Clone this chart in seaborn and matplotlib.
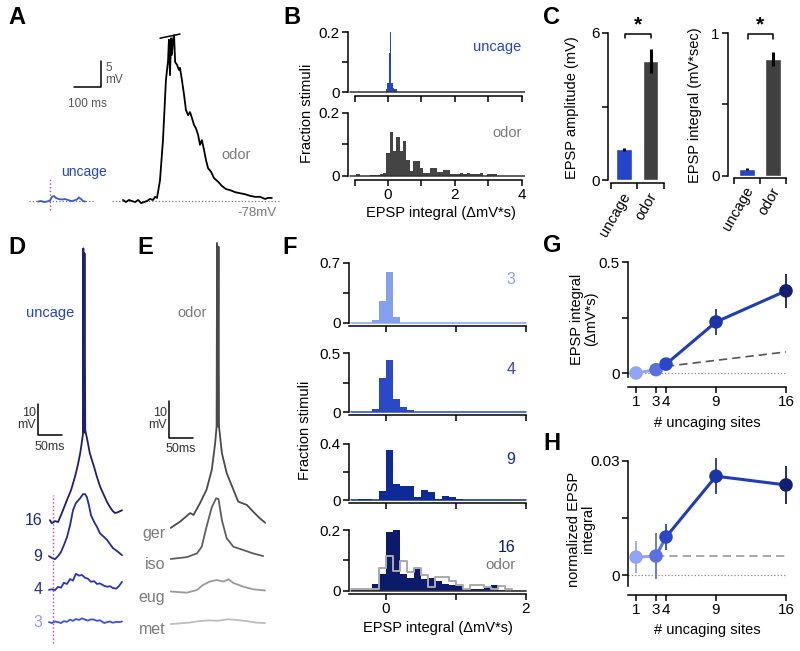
import numpy as np
import matplotlib
matplotlib.use("Agg")
import matplotlib.pyplot as plt
import matplotlib.transforms as mtrans
import seaborn as sns

# ---------------- data ----------------
# A: example traces (ms, mV above rest)
a_unc_t = [67, 78, 89, 100, 111, 118, 126, 133, 144, 155, 166, 178, 189, 200, 211, 218, 226, 233, 241]
a_unc_v = [-0.1, 0, -0.2, -0.1, 0.1, 0.77, 0.96, 0.58, 0.38, 0.29, 0.38, 0.19, 0, 0.1, 0.29, 0.67, 0.38, 0, -0.1]
a_odor_t = [381, 392, 403, 414, 426, 437, 448, 459, 470, 481, 492, 500, 507, 518, 529, 540, 548, 551, 555, 559,
            562, 566, 570, 574, 581, 588, 592, 599, 607, 614, 622, 629, 636, 644, 651, 659, 666, 673, 681, 688,
            696, 707, 718, 733, 747, 762, 777, 796, 814, 833, 851, 870, 888, 907, 918, 932]
a_odor_v = [0.2, -0.2, 0.2, 0, -0.2, 0.2, -0.4, -0.2, 0, 0.4, 0.2, 0.8, 0.6, 4.0, 11.7, 23.3, 27.1, 31.0, 24.2, 31.3,
            28.1, 31.0, 31.9, 26.7, 26.2, 25.2, 25.6, 23.3, 20.4, 17.5, 16.5, 17.1, 16.0, 14.6, 14.0, 12.7, 10.8, 11.7, 9.8, 7.9,
            6.3, 5.6, 4.4, 3.7, 2.9, 2.3, 2.1, 1.7, 1.5, 1.3, 1.0, 0.8, 0.8, 0.4, 0.6, 0.6]

# B: histograms of EPSP integral
b_unc_edges = [-0.06, -0.02, 0.02, 0.06, 0.10, 0.14, 0.18, 0.22, 0.26]
b_unc_h = [0.01, 0.03, 0.13, 0.21, 0.03, 0.015, 0.01, 0.01]
b_odor_h = [0.006, 0, 0, 0, 0.004, 0.004, 0.004, 0.005, 0.01, 0.074, 0.14, 0.08, 0.125, 0.08, 0.11,
            0.05, 0.017, 0.047, 0.047, 0.024, 0.01, 0.01, 0.024, 0.024, 0.014, 0.014, 0.019, 0.019, 0.005,
            0.005, 0.005, 0.01, 0.005, 0.01, 0.005, 0.005, 0.005, 0.01, 0, 0.007, 0.005, 0.007, 0]
b_odor_edges = np.round(np.arange(-0.95, 3.36, 0.1), 2).tolist()

# C: means and errors
c_cats = ["uncage", "odor"]
amp_mean = [1.25, 4.86]
amp_err = [0.07, 0.5]
int_mean = [0.05, 0.82]
int_err = [0.008, 0.05]

# D: uncaging traces (ms, mV), number of sites
d_t16 = [2, 6, 12.5, 19, 25, 31, 37.5, 46, 54, 60, 65, 69, 71, 71.5, 72.5, 74, 75.5, 79, 85, 94, 100, 106, 112.5,
         121, 127, 133, 137.5, 144, 152]
d_v16 = [0, -1, -0.3, -0.6, 1.6, 3.9, 6.5, 9.7, 13.9, 17.7, 21.6, 25.8, 28.1, 87.7, 28.1, 86.1, 29, 26.5, 21.6, 17.1,
         13.9, 11, 8.7, 5.8, 4.2, 2.9, 2.3, 2.6, 3.2]
d_t9 = [0, 6, 12.5, 19, 25, 31, 37.5, 44, 50, 56, 65, 71, 75, 79, 83, 87.5, 94, 100, 106, 115, 121, 127, 133, 142, 152]
d_v9 = [0, -0.6, -1, 0, 1.3, 3.5, 6.1, 10, 14.8, 17.1, 18.7, 20, 20, 19, 16.5, 13.2, 11, 9.4, 7.4, 6.1, 5.2, 3.9,
        2.6, 1.6, 0.3]
d_t4 = [0, 6, 12.5, 19, 25, 31, 37.5, 44, 50, 56, 62.5, 69, 75, 81, 87.5, 94, 100, 106, 115, 121, 127, 133, 140, 146, 152]
d_v4 = [0, 0.2, -0.1, 1, 0.7, 2.3, 1.9, 3.5, 3.0, 5.2, 4.6, 4.8, 3.9, 3.6, 2.6, 2.8, 1.9, 2.1, 1.3, 1.0, 1.2, 0.6,
        0.4, 1.3, 2.6]
d_v3 = [0, -0.3, 0.2, 0, -0.3, 0.3, 0.1, 0.8, 0.4, 1.0, 0.7, 1.2, 0.8, 0.5, 0.9, 0.8, 0.4, 0.6, -0.3, 0, 0.2, -0.2,
        0.1, 0, 0.2]
d_labels = ["16", "9", "4", "3"]
d_offsets = [41.9, 30.3, 19.4, 9.0]

# E: odor traces (ms, mV)
e_ger_t = [1.5, 21, 42, 49, 62.5, 76, 87, 94, 97, 98, 99.5, 101, 102, 108, 118, 132, 142, 160, 173, 187, 198]
e_ger_v = [0, 1.7, 4, 3.5, 6.7, 10.3, 15.7, 22.9, 27.4, 77, 27.4, 76, 27.4, 20.2, 14.8, 10.3, 7.1, 6.2, 4.4, 2.6, 1.4]
e_iso_t = [1.5, 35, 56, 66, 76, 87, 96, 101, 108, 118, 132, 153, 173, 194]
e_iso_v = [0, 0.5, 1.5, 3.3, 8.7, 14, 16.4, 16.2, 10.5, 5.6, 3.3, 2.4, 1.5, 0.8]
e_eug_t = [1.5, 35, 56, 69, 83, 97, 111, 122, 132, 153, 173, 198]
e_eug_v = [0.1, -0.2, 0.5, 1.9, 2.8, 3.2, 2.8, 3.4, 2.4, 1.4, 0.7, 0.4]
e_met_t = [1.5, 20, 40, 60, 80, 100, 120, 140, 160, 180, 198]
e_met_v = [0, 0.2, 0.4, 0.8, 1.0, 0.9, 1.3, 1.1, 0.8, 0.4, 0.3]
e_labels = ["ger", "iso", "eug", "met"]
e_offsets = [33.0, 24.6, 15.7, 7.0]

# F: histograms per number of sites (bins of 0.1 from -0.5 to 2)
f_edges = np.round(np.arange(-0.5, 2.01, 0.1), 2).tolist()
f_h3 = [0, 0, 0, 0.03, 0.26, 0.6, 0.07] + [0] * 18
f_h4 = [0, 0, 0, 0.03, 0.29, 0.44, 0.11, 0.043, 0.014, 0.004, 0, 0, 0] + [0.004] * 12
f_h9 = [0, 0.005, 0.005, 0, 0.065, 0.355, 0.115, 0.1, 0.1, 0.024, 0.072, 0.057, 0.005, 0.031, 0.019, 0.005] + [0] * 9
f_h16 = [0.003, 0.003, 0.003, 0.022, 0.054, 0.195, 0.2, 0.054, 0.043, 0.079, 0.04, 0.043, 0.032, 0.022, 0.018,
         0.016, 0.005, 0.005, 0.008, 0.013, 0.02, 0.003, 0, 0, 0]
f_odor = [0.008, 0.008, 0.008, 0.008, 0.076, 0.116, 0.067, 0.098, 0.062, 0.076, 0.051, 0.013, 0.046, 0.046, 0.033,
          0.021, 0.008, 0.021, 0.021, 0.013, 0.008, 0.015, 0.008, 0, 0]

# G/H: summary vs number of sites
sites = [1, 3, 4, 9, 16]
g_vals = [0.0, 0.015, 0.04, 0.23, 0.37]
g_err = [0.004, 0.008, 0.012, 0.06, 0.075]
g_lin_x = [4, 16]
g_lin_y = [0.03, 0.095]
h_vals = [0.0047, 0.005, 0.010, 0.026, 0.0237]
h_err = [0.0042, 0.006, 0.0033, 0.0048, 0.0049]
h_lin_x = [3, 16]
h_lin_y = [0.005, 0.005]

# colours
BLUE = "#2444c9"
GRAY_TXT = "#7a7a7a"
site_colors = ["#93a5f2", "#5a70e0", "#2b46c8", "#1b35a8", "#101f70"]
d_colors = ["#1b1f78", "#1f2da0", "#2535c8", "#3c4ef0"]
d_lab_colors = ["#1b2a80", "#1b2a90", "#1f30a8", "#8da0ee"]
e_colors = ["#4a4a4a", "#5e5e5e", "#9a9a9a", "#bdbdbd"]

# ---------------- style ----------------
sns.set_theme(style="ticks")
plt.rcParams['font.family'] = ['Liberation Sans', 'DejaVu Sans']
plt.rcParams.update({
    'font.size': 10.5, 'axes.linewidth': 1.1, 'axes.edgecolor': 'black',
    'xtick.major.width': 1.1, 'ytick.major.width': 1.1,
    'xtick.major.size': 4, 'ytick.major.size': 4,
    'xtick.major.pad': 2, 'ytick.major.pad': 2,
    'xtick.labelsize': 11, 'ytick.labelsize': 11,
    'xtick.color': 'black', 'ytick.color': 'black',
    'text.color': 'black', 'axes.labelcolor': 'black',
})

W, H = 800, 651
fig = plt.figure(figsize=(W / 100, H / 100), dpi=100)


def add_ax(x0, y0, x1, y1):
    # axes placed in pixel coordinates (origin top-left)
    return fig.add_axes([x0 / W, 1 - y1 / H, (x1 - x0) / W, (y1 - y0) / H])


def ftext(x, y, s, **kw):
    return fig.text(x / W, 1 - y / H, s, **kw)


def trace(ax, t, v, color, off=0.0, lw=1.3):
    sns.lineplot(x=np.asarray(t), y=np.asarray(v) + off, ax=ax, color=color, lw=lw,
                 sort=False, estimator=None)


def clean(ax):
    sns.despine(ax=ax)
    ax.set_xlabel("")
    ax.set_ylabel("")


# ---------------- A ----------------
ax = add_ax(20, 20, 290, 220)
ax.set_xlim(0, 999)
ax.set_ylim(-3.65, 34.8)
ax.axis("off")
ax.plot([33, 278], [0, 0], ls=":", color="#777777", lw=0.9)
ax.plot([340, 966], [0, 0], ls=":", color="#777777", lw=0.9)
ax.plot([111, 111], [-1.7, 4.4], ls=":", color="#d030d0", lw=1.0)
trace(ax, a_unc_t, a_unc_v, "#3a5ad8")
trace(ax, a_odor_t, a_odor_v, "black")
ax.plot([518, 592], [31.3, 32.1], color="black", lw=1.1)
ax.plot([200, 300, 300], [21.9, 21.9, 26.9], color="black", lw=1.1)
ax.text(315, 24.4, "5\nmV", fontsize=8.5, color="#555555", ha="left", va="center", linespacing=1.0)
ax.text(248, 19.9, "100 ms", fontsize=8.5, color="#555555", ha="center", va="top")
ax.text(237, 5.6, "uncage", fontsize=10, color=BLUE, ha="center", va="center")
ax.text(799, 8.8, "odor", fontsize=10.5, color=GRAY_TXT, ha="center", va="center")
ax.text(950, -2.3, "-78mV", fontsize=9.5, color=GRAY_TXT, ha="right", va="center")

# ---------------- B ----------------
axb1 = add_ax(348, 32, 525, 96)
sns.histplot(x=[e + 0.02 for e in b_unc_edges[:-1]], weights=b_unc_h, bins=b_unc_edges, ax=axb1,
             color=BLUE, alpha=1, linewidth=0)
axb1.plot([-1.15, 4.1], [0, 0], color="#333333", lw=1.1)
axb1.set_xlim(-1.2, 4.1)
axb1.set_ylim(-0.012, 0.2)
clean(axb1)
axb1.spines["left"].set_bounds(0, 0.2)
axb1.spines["bottom"].set_bounds(-1, 4)
axb1.set_yticks([0, 0.1, 0.2], ["0", "", "0.2"])
axb1.set_xticks(range(-1, 5), [""] * 6)
axb1.text(4.0, 0.15, "uncage", color=BLUE, fontsize=10.5, ha="right", va="center")

axb2 = add_ax(348, 113, 525, 180)
sns.histplot(x=[e + 0.05 for e in b_odor_edges[:-1]], weights=b_odor_h, bins=b_odor_edges, ax=axb2,
             color="#444444", alpha=1, linewidth=0)
axb2.plot([-1.15, 4.1], [0, 0], color="#333333", lw=1.1)
axb2.set_xlim(-1.2, 4.1)
axb2.set_ylim(-0.0127, 0.2)
clean(axb2)
axb2.spines["left"].set_bounds(0, 0.2)
axb2.spines["bottom"].set_bounds(-1, 4)
axb2.set_yticks([0, 0.1, 0.2], ["0", "", "0.2"])
axb2.set_xticks(range(-1, 5), ["", "0", "", "2", "", "4"])
axb2.text(4.0, 0.135, "odor", color=GRAY_TXT, fontsize=10.5, ha="right", va="center")
ftext(307, 113, "Fraction stimuli", rotation=90, ha="center", va="center")
ftext(441, 213, "EPSP integral (ΔmV*s)", ha="center", va="center")

# ---------------- C ----------------
c_colors = [BLUE, "#404040"]


def bar_panel(box, means, errs, xlim, ylim, yticks, ylabels, ylab, ylab_xy, br_y, star_y):
    axc = add_ax(*box)
    sns.barplot(x=c_cats, y=means, hue=c_cats, palette=c_colors, width=0.58, legend=False,
                ax=axc, saturation=1, errorbar=None)
    axc.errorbar([0, 1], means, yerr=errs, fmt="none", ecolor="black", elinewidth=2.2, capsize=0)
    clean(axc)
    axc.set_xlim(*xlim)
    axc.set_ylim(*ylim)
    axc.spines["left"].set_bounds(0, ylim[1])
    axc.spines["bottom"].set_bounds(-0.5, 1.5)
    axc.set_xticks([-0.5, 0.5, 1.5], ["", "", ""])
    axc.set_yticks(yticks, ylabels)
    tr = mtrans.blended_transform_factory(axc.transData, axc.transAxes)
    for i, c in enumerate(c_cats):
        axc.text(i + 0.12, -0.07, c, transform=tr, rotation=60, ha="right", va="center",
                 rotation_mode="anchor", fontsize=10.5)
    dy = ylim[1] * 0.03
    axc.plot([0.02, 0.02, 1.0, 1.0], [br_y - dy, br_y, br_y, br_y - dy], color="black", lw=1.1, clip_on=False)
    axc.text(0.51, star_y, "*", ha="center", va="center", fontsize=15, fontweight="bold")
    ftext(*ylab_xy, ylab, rotation=90, ha="center", va="center")
    return axc


bar_panel((608, 33, 664, 183), amp_mean, amp_err, (-0.61, 1.5), (-0.12, 6), [0, 3, 6], ["0", "", "6"],
          "EPSP amplitude (mV)", (572, 108), 5.97, 6.35)
bar_panel((728, 33, 786, 178), int_mean, int_err, (-0.73, 1.5), (-0.014, 1), [0, 0.5, 1], ["0", "", "1"],
          "EPSP integral (mV*sec)", (695, 105), 0.99, 1.06)

# ---------------- D ----------------
axd = add_ax(10, 240, 135, 650)
axd.set_xlim(-81, 179)
axd.set_ylim(0, 132.3)
axd.axis("off")
axd.plot([8.3, 8.3], [2.3, 50], ls=":", color="#d030d0", lw=1.0)
d_traces = [(d_t16, d_v16), (d_t9, d_v9), (d_t4, d_v4), (d_t4, d_v3)]
for (t, v), off, col, lab, lcol in zip(d_traces, d_offsets, d_colors, d_labels, d_lab_colors):
    trace(axd, t, v, col, off)
    axd.text(-14, off, lab, color=lcol, fontsize=11.5, ha="right", va="center")
axd.plot([-23, -23, 27], [79.4, 69.4, 69.4], color="black", lw=1.1)
axd.text(-27, 74.4, "10\nmV", fontsize=9, color="#333333", ha="right", va="center", linespacing=1.0)
axd.text(2, 67.5, "50ms", fontsize=9, color="#333333", ha="center", va="top")
axd.text(2, 108.7, "uncage", fontsize=10.5, color=BLUE, ha="center", va="center")

# ---------------- E ----------------
axe = add_ax(140, 240, 280, 650)
axe.set_xlim(-62.5, 229)
axe.set_ylim(0, 110.8)
axe.axis("off")
e_traces = [(e_ger_t, e_ger_v), (e_iso_t, e_iso_v), (e_eug_t, e_eug_v), (e_met_t, e_met_v)]
for (t, v), off, col, lab in zip(e_traces, e_offsets, e_colors, e_labels):
    trace(axe, t, v, col, off)
    axe.text(-10, off - 1.5, lab, color=GRAY_TXT, fontsize=11.5, ha="right", va="center")
axe.plot([-2, -2, 48], [67.3, 57.3, 57.3], color="black", lw=1.1)
axe.text(-6, 62.3, "10\nmV", fontsize=9, color="#333333", ha="right", va="center", linespacing=1.0)
axe.text(23, 56.0, "50ms", fontsize=9, color="#333333", ha="center", va="top")
axe.text(46, 91, "odor", fontsize=10.5, color=GRAY_TXT, ha="center", va="center")

# ---------------- F ----------------
f_centers = [e + 0.05 for e in f_edges[:-1]]
f_panels = [
    ("3", f_h3, "#85a0f0", (263, 326), (-0.035, 0.7), ["0", "", "0.7"]),
    ("4", f_h4, "#2a48c8", (353, 415), (-0.025, 0.5), ["0", "", "0.5"]),
    ("9", f_h9, "#0d2a98", (444, 503), (-0.021, 0.4), ["0", "", "0.4"]),
    ("16", f_h16, "#0b1a6b", (530, 594), (-0.01, 0.2), ["0", "", "0.2"]),
]
for k, (lab, hts, col, (y0, y1), yl, ylabs) in enumerate(f_panels):
    axf = add_ax(349, y0, 528, y1)
    sns.histplot(x=f_centers, weights=hts, bins=f_edges, ax=axf, color=col, alpha=1, linewidth=0)
    if lab == "16":
        sns.histplot(x=f_centers, weights=f_odor, bins=f_edges, ax=axf, element="step", fill=False,
                     color="#aaaaaa", linewidth=1.4)
    axf.plot([-0.5, 2.0], [0, 0], color=col if lab != "16" else "#333333", lw=1.1)
    clean(axf)
    axf.set_xlim(-0.53, 2.03)
    axf.set_ylim(*yl)
    axf.spines["left"].set_bounds(0, yl[1])
    axf.spines["bottom"].set_bounds(-0.53, 2)
    axf.set_yticks([0, yl[1] / 2, yl[1]], ylabs)
    axf.set_xticks([0, 1, 2], ["0", "", "2"] if lab == "16" else ["", "", ""])
    axf.text(1.85, yl[1] * 0.72, lab, color=col if lab != "3" else "#8fa3ee", fontsize=11.5,
             ha="right", va="center")
    if lab == "16":
        axf.text(1.85, yl[1] * 0.43, "odor", color=GRAY_TXT, fontsize=11, ha="right", va="center")
ftext(305, 430, "Fraction stimuli", rotation=90, ha="center", va="center")
ftext(438, 628, "EPSP integral (ΔmV*s)", ha="center", va="center")


# ---------------- G / H ----------------
def sites_panel(box, vals, errs, lin_x, lin_y, ylim, yticks, ylabels, sp_low, ylab, ylab_xy, xlab_y, lin_col):
    axg = add_ax(*box)
    axg.plot([0.2, 16], [0, 0], ls=":", color="#888888", lw=0.9)
    axg.plot(lin_x, lin_y, ls=(0, (5, 3)), color=lin_col, lw=1.2)
    axg.plot(sites[:2], vals[:2], color=site_colors[0], lw=2.2, zorder=2)
    axg.plot(sites[1:3], vals[1:3], color=site_colors[1], lw=2.2, zorder=2)
    sns.lineplot(x=sites[2:], y=vals[2:], ax=axg, color="#1f3db8", lw=2.2, sort=False, estimator=None, zorder=2)
    for s, v, e, c in zip(sites, vals, errs, site_colors):
        axg.errorbar(s, v, yerr=e, fmt="none", ecolor=c, elinewidth=1.3, capsize=0, zorder=2, clip_on=False)
    sns.scatterplot(x=sites, y=vals, hue=sites, palette=site_colors, s=95, legend=False, ax=axg,
                    edgecolor="none", zorder=3, clip_on=False)
    clean(axg)
    axg.set_xlim(0.2, 16.4)
    axg.set_ylim(*ylim)
    axg.spines["left"].set_bounds(sp_low, ylim[1])
    axg.spines["bottom"].set_bounds(0.2, 16)
    axg.set_xticks(sites, [str(s) for s in sites])
    axg.set_yticks(yticks, ylabels)
    ftext(*ylab_xy, ylab, rotation=90, ha="center", va="center", linespacing=1.05)
    ftext(707, xlab_y, "# uncaging sites", ha="center", va="center")
    return axg


sites_panel((628, 262, 790, 387), g_vals, g_err, g_lin_x, g_lin_y, (-0.063, 0.5), [0, 0.25, 0.5],
            ["0", "", "0.5"], -0.02, "EPSP integral\n(ΔmV*s)", (584, 319), 423, "#555555")
sites_panel((628, 461, 790, 595), h_vals, h_err, h_lin_x, h_lin_y, (-0.00526, 0.03), [0, 0.015, 0.03],
            ["0", "", "0.03"], -0.003, "normalized EPSP\nintegral", (581, 529), 630, "#999999")

# ---------------- panel letters ----------------
for let, x, y in [("A", 8, 18), ("B", 283, 18), ("C", 543, 18), ("D", 8, 248), ("E", 137, 248),
                  ("F", 282, 248), ("G", 543, 245), ("H", 543, 444)]:
    ftext(x, y, let, fontsize=17, fontweight="bold", ha="left", va="center")

fig.savefig("out.png", dpi=100)
